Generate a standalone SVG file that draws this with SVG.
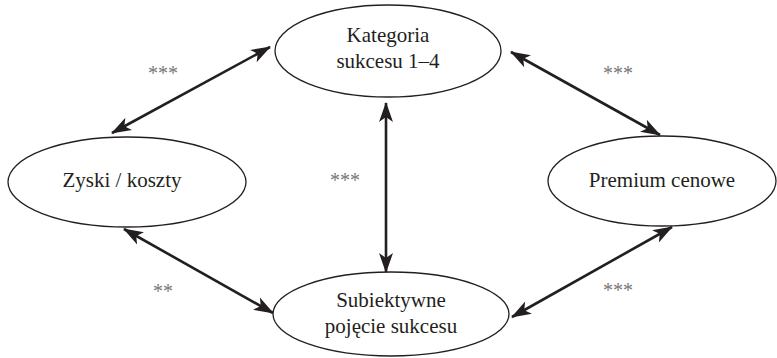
<svg xmlns="http://www.w3.org/2000/svg" width="777" height="358" viewBox="0 0 777 358">
<style>
.node ellipse{fill:#fff;stroke:#231f20;stroke-width:1.3}
.lbl{font-family:"Liberation Serif","Times New Roman",serif;font-size:21px;fill:#231f20;text-anchor:middle}
.ast{font-family:"Liberation Serif","Times New Roman",serif;font-size:20px;fill:#777;text-anchor:middle}
.conn line{stroke:#231f20;stroke-width:2.6;marker-start:url(#ah);marker-end:url(#ah)}
</style>
<defs>
<marker id="ah" markerUnits="userSpaceOnUse" markerWidth="20" markerHeight="16" viewBox="0 0 20 16" refX="19" refY="8" orient="auto-start-reverse">
<path d="M0,1 L20,8 L0,15 L5,8 z" fill="#231f20"/>
</marker>
</defs>
<rect width="777" height="358" fill="#fff"/>
<g class="conn" id="connectors">
<line x1="112" y1="133" x2="270" y2="47"/>
<line x1="511" y1="52" x2="660" y2="135"/>
<line x1="386" y1="103" x2="386" y2="272"/>
<line x1="124" y1="229" x2="273" y2="313"/>
<line x1="672" y1="227" x2="512" y2="317"/>
</g>
<g id="n-kategoria" class="node">
<ellipse cx="388" cy="51" rx="113" ry="46"/>
<text class="lbl" x="388" y="42">Kategoria</text>
<text class="lbl" x="388" y="68">sukcesu 1–4</text>
</g>
<g id="n-zyski" class="node">
<ellipse cx="127" cy="182" rx="119" ry="45"/>
<text class="lbl" x="122" y="187">Zyski / koszty</text>
</g>
<g id="n-premium" class="node">
<ellipse cx="662" cy="181" rx="114" ry="45"/>
<text class="lbl" x="662" y="187">Premium cenowe</text>
</g>
<g id="n-subiektywne" class="node">
<ellipse cx="391" cy="314" rx="118" ry="42"/>
<text class="lbl" x="391" y="307">Subiektywne</text>
<text class="lbl" x="391" y="333">pojęcie sukcesu</text>
</g>
<g id="labels">
<text class="ast" x="163" y="80">***</text>
<text class="ast" x="618" y="80">***</text>
<text class="ast" x="345" y="187">***</text>
<text class="ast" x="163" y="298">**</text>
<text class="ast" x="618" y="297">***</text>
</g>
</svg>
